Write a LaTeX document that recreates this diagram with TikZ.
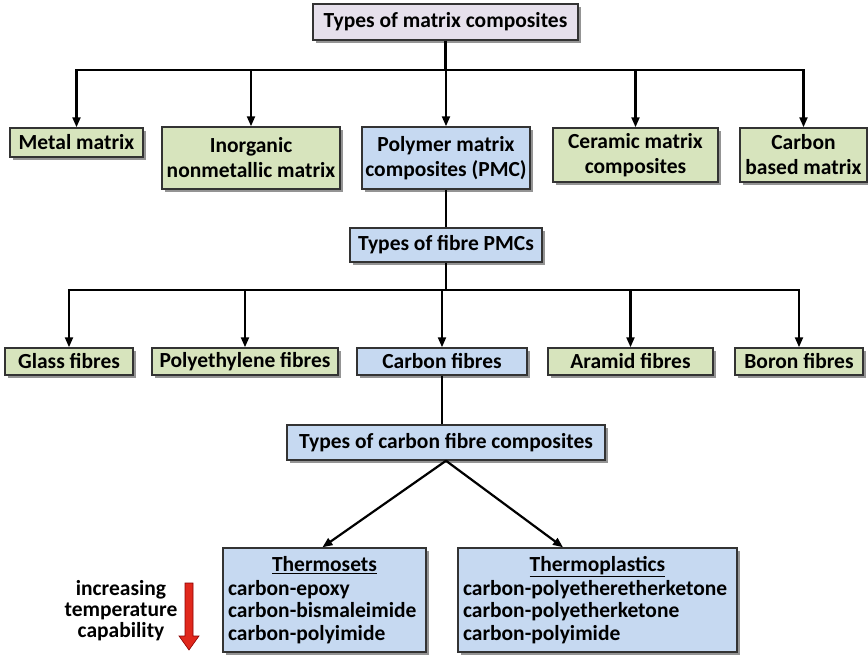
\documentclass[tikz,border=0pt]{standalone}
\usepackage{fontspec}
\setmainfont{Carlito}
\usetikzlibrary{shadows,arrows.meta,calc}
\definecolor{boxgreen}{HTML}{D7E4BD}
\definecolor{boxblue}{HTML}{C6D9F1}
\definecolor{boxlav}{HTML}{E6E0EC}
\definecolor{arrred}{HTML}{E0281C}
\tikzset{
 box/.style={draw=black!80, line width=1.5pt, inner sep=1pt, font=\fontsize{21.5}{25}\selectfont\bfseries, align=center,
   drop shadow={shadow xshift=2.5pt, shadow yshift=-3pt, fill=black!70, opacity=0.6}},
 gbox/.style={box, fill=boxgreen},
 bbox/.style={box, fill=boxblue},
 listbox/.style={bbox, font=\fontsize{21.5}{22.5}\selectfont\bfseries, align=left, inner xsep=5pt, minimum height=104pt},
 conn/.style={line width=2.2pt, black},
 arr/.style={conn, -{Triangle[length=10pt,width=8pt]}},
}
\begin{document}
\begin{tikzpicture}[x=1pt,y=1pt]
\useasboundingbox (0,0) rectangle (868,-654);
% top
\node[box, fill=boxlav, minimum width=265pt, minimum height=36pt] (top) at (445.5,-22) {Types of matrix composites};
% row 1
\node[gbox, minimum width=133pt, minimum height=29pt] (metal) at (76.5,-142.5) {Metal matrix};
\node[gbox, minimum width=178pt, minimum height=62pt] (inorg) at (251,-158) {Inorganic\\nonmetallic matrix};
\node[bbox, minimum width=168pt, minimum height=62pt] (pmc) at (446,-158) {Polymer matrix\\composites (PMC)};
\node[gbox, minimum width=165pt, minimum height=54pt] (ceram) at (635.5,-155) {Ceramic matrix\\composites};
\node[gbox, minimum width=127pt, minimum height=54pt] (carbb) at (803.5,-155) {Carbon\\based matrix};
% fibre PMCs
\node[bbox, minimum width=192pt, minimum height=34pt] (fpmc) at (446,-245) {Types of fibre PMCs};
% row 2
\node[gbox, minimum width=128pt, minimum height=27pt] (glass) at (69,-361.5) {Glass fibres};
\node[gbox, minimum width=186pt, minimum height=27pt] (pe) at (245,-361.5) {Polyethylene fibres};
\node[bbox, minimum width=170pt, minimum height=27pt] (cf) at (442,-361.5) {Carbon fibres};
\node[gbox, minimum width=165pt, minimum height=27pt] (aramid) at (630.5,-361.5) {Aramid fibres};
\node[gbox, minimum width=128pt, minimum height=27pt] (boron) at (799,-361.5) {Boron fibres};
% carbon fibre composites
\node[bbox, minimum width=318pt, minimum height=35pt] (cfc) at (446,-442.5) {Types of carbon fibre composites};
% bottom boxes
\node[listbox, text width=193pt] (ts) at (324.5,-600)
 {\hfill\underline{Thermosets}\hfill\null\\[1pt]carbon-epoxy\\carbon-bismaleimide\\carbon-polyimide};
\node[listbox, text width=269pt] (tp) at (597.5,-600)
 {\hfill\underline{Thermoplastics}\hfill\null\\[1pt]carbon-polyetheretherketone\\carbon-polyetherketone\\carbon-polyimide};
% left label and red arrow
\node[font=\fontsize{21.5}{21}\selectfont\bfseries, align=center, inner sep=0pt] (inc) at (121,-611) {increasing\\temperature\\capability};
\filldraw[fill=arrred, draw=red!55!black, line width=0.6pt] (185,-583) -- (193,-583) -- (193,-636) -- (199,-636) -- (189,-650) -- (179,-636) -- (185,-636) -- cycle;
% connectors
\coordinate (bar1) at (446,-70);
\coordinate (bar2) at (446,-290);
\draw[conn] (top.south) -- (top.south |- bar1);
\draw[conn] ($(metal.north |- bar1)+(-1.1,0)$) -- ($(carbb.north |- bar1)+(1.1,0)$);
\foreach \n in {metal,inorg,pmc,ceram,carbb} \draw[arr] (\n.north |- bar1) -- (\n.north);
\draw[conn] (pmc.south) -- (fpmc.north);
\draw[conn] (fpmc.south) -- (fpmc.south |- bar2);
\draw[conn] ($(glass.north |- bar2)+(-1.1,0)$) -- ($(boron.north |- bar2)+(1.1,0)$);
\foreach \n in {glass,pe,cf,aramid,boron} \draw[arr] (\n.north |- bar2) -- (\n.north);
\draw[conn] (cf.south) -- (cf.south |- cfc.north);
\draw[arr] (cfc.south) -- ($(ts.north west)!0.49!(ts.north east)$);
\draw[arr] (cfc.south) -- ($(tp.north west)!0.377!(tp.north east)$);
\end{tikzpicture}
\end{document}
